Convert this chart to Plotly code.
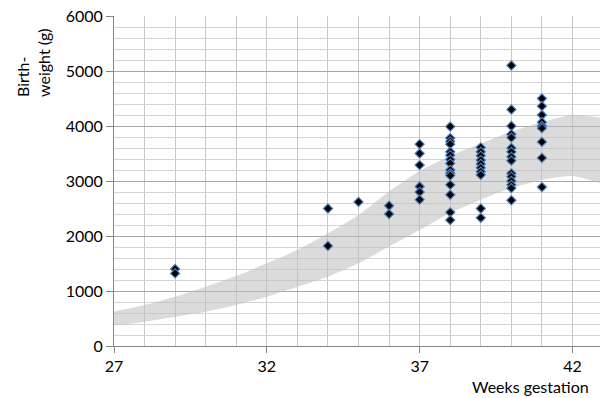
import plotly.graph_objects as go

# ---- data ----
band_weeks = [26.87, 28, 29, 30, 31, 32, 33, 34, 35, 36, 37, 38, 39, 40, 41, 42, 42.9]
band_lower = [364, 442, 533, 624, 745, 897, 1079, 1261, 1503, 1810, 2110, 2420, 2660, 2870, 3020, 3090, 2960]
band_upper = [612, 745, 897, 1079, 1273, 1503, 1745, 2048, 2382, 2810, 3180, 3460, 3680, 3900, 4070, 4200, 4150]

weeks = [29, 34, 35, 36, 37, 38, 39, 40, 41]
wt_29 = [1400, 1320]
wt_34 = [2500, 1820]
wt_35 = [2620]
wt_36 = [2550, 2400]
wt_37 = [3670, 3500, 3290, 2900, 2800, 2660]
wt_38 = [3990, 3780, 3720, 3670, 3530, 3470, 3390, 3320, 3200, 3140, 3100, 2930, 2750, 2430, 2290]
wt_39 = [3610, 3530, 3460, 3380, 3310, 3240, 3170, 3110, 2500, 2330]
wt_40 = [5100, 4300, 4000, 3850, 3790, 3600, 3530, 3440, 3370, 3140, 3080, 3000, 2930, 2870, 2650]
wt_41 = [4500, 4360, 4200, 4070, 4000, 3960, 3710, 3420, 2890]
weights_by_week = [wt_29, wt_34, wt_35, wt_36, wt_37, wt_38, wt_39, wt_40, wt_41]

x_ticks = [27, 32, 37, 42]
y_ticks = [0, 1000, 2000, 3000, 4000, 5000, 6000]

pts_x, pts_y = [], []
for wk, ws in zip(weeks, weights_by_week):
    for w in ws:
        pts_x.append(wk)
        pts_y.append(w)

FONT = "Lato"

fig = go.Figure()
fig.add_trace(go.Scatter(x=band_weeks, y=band_lower, mode="lines",
                         line=dict(width=0, color="rgba(0,0,0,0)", shape="spline", smoothing=0.6),
                         hoverinfo="skip", showlegend=False))
fig.add_trace(go.Scatter(x=band_weeks, y=band_upper, mode="lines", fill="tonexty",
                         fillcolor="rgba(190,190,190,0.55)",
                         line=dict(width=0, color="rgba(0,0,0,0)", shape="spline", smoothing=0.6),
                         hoverinfo="skip", showlegend=False))
fig.add_trace(go.Scatter(x=pts_x, y=pts_y, mode="markers",
                         marker=dict(symbol="diamond", size=7, color="black",
                                     line=dict(color="#4a7ebb", width=1.2)),
                         showlegend=False))

fig.update_layout(
    width=600, height=398,
    margin=dict(l=114, r=0, t=16, b=52),
    paper_bgcolor="white", plot_bgcolor="white",
    font=dict(family=FONT, size=16, color="black"),
    showlegend=False,
)
fig.update_xaxes(
    range=[27, 42.9], tickvals=x_ticks, ticktext=[str(t) for t in x_ticks],
    showgrid=True, gridcolor="#c8c8c8", gridwidth=1,
    minor=dict(dtick=1, tick0=27, showgrid=True, gridcolor="#c8c8c8", gridwidth=1),
    showline=True, linecolor="#868686", linewidth=1,
    ticks="outside", ticklen=6, tickcolor="#868686",
    zeroline=False, tickfont=dict(family=FONT, size=16),
)
fig.update_yaxes(
    range=[0, 6000], tickvals=y_ticks, ticktext=[str(t) for t in y_ticks],
    showgrid=True, gridcolor="#a6a6a6", gridwidth=1,
    minor=dict(dtick=200, tick0=0, showgrid=True, gridcolor="#d4d4d4", gridwidth=1),
    showline=True, linecolor="#868686", linewidth=1,
    ticks="outside", ticklen=7, tickcolor="#868686",
    zeroline=False, tickfont=dict(family=FONT, size=16),
)
fig.add_annotation(text="Birth-<br>weight (g)", textangle=-90, align="left",
                   xref="paper", yref="paper", x=-0.1667, y=0.8606,
                   xanchor="center", yanchor="middle", showarrow=False,
                   font=dict(family=FONT, size=16, color="black"))
fig.add_annotation(text="Weeks gestation", xref="paper", yref="paper",
                   x=0.981, y=-0.124, xanchor="right", yanchor="middle",
                   showarrow=False, font=dict(family=FONT, size=16, color="black"))

fig.write_html("out.html", config={"displayModeBar": False},
               post_script="document.body.style.margin='0';document.body.style.overflow='hidden';")
